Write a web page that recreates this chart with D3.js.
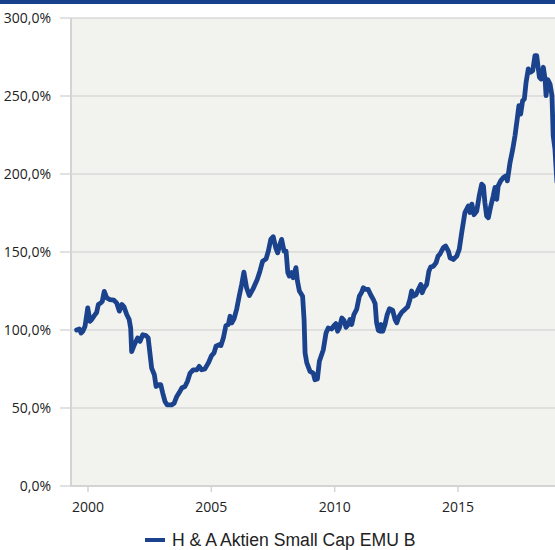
<!DOCTYPE html>
<html><head><meta charset="utf-8">
<script src="https://cdn.jsdelivr.net/npm/d3@7"></script>
<style>body{margin:0;background:#fff}svg{display:block}</style>
</head><body>
<script>
const seriesName = "H & A Aktien Small Cap EMU B";
const dates = [1999.54,1999.65,1999.72,1999.79,1999.88,1999.99,2000.08,2000.15,2000.24,2000.35,2000.42,2000.52,2000.58,2000.66,2000.76,2000.89,2001.05,2001.16,2001.27,2001.37,2001.46,2001.57,2001.67,2001.73,2001.77,2001.88,2002.01,2002.11,2002.22,2002.35,2002.44,2002.51,2002.58,2002.69,2002.76,2002.87,2002.95,2003.03,2003.12,2003.21,2003.39,2003.49,2003.60,2003.70,2003.80,2003.93,2004.03,2004.14,2004.27,2004.41,2004.51,2004.61,2004.74,2004.88,2005.01,2005.11,2005.19,2005.32,2005.39,2005.49,2005.59,2005.69,2005.76,2005.83,2005.92,2006.03,2006.13,2006.23,2006.32,2006.43,2006.54,2006.68,2006.77,2006.86,2006.97,2007.08,2007.22,2007.31,2007.41,2007.51,2007.61,2007.69,2007.76,2007.85,2007.95,2008.03,2008.10,2008.16,2008.26,2008.32,2008.43,2008.49,2008.57,2008.70,2008.76,2008.80,2008.87,2009.00,2009.13,2009.20,2009.30,2009.38,2009.54,2009.65,2009.74,2009.88,2009.97,2010.05,2010.12,2010.19,2010.29,2010.38,2010.46,2010.55,2010.62,2010.69,2010.78,2010.89,2011.00,2011.10,2011.16,2011.26,2011.36,2011.46,2011.57,2011.64,2011.70,2011.77,2011.84,2011.88,2011.95,2012.04,2012.13,2012.22,2012.35,2012.45,2012.52,2012.60,2012.72,2012.85,2012.96,2013.05,2013.12,2013.19,2013.30,2013.39,2013.49,2013.55,2013.63,2013.73,2013.82,2013.89,2014.00,2014.11,2014.19,2014.27,2014.40,2014.50,2014.61,2014.68,2014.81,2014.95,2015.05,2015.15,2015.28,2015.42,2015.49,2015.56,2015.65,2015.76,2015.86,2015.96,2016.03,2016.09,2016.16,2016.23,2016.33,2016.43,2016.50,2016.57,2016.63,2016.73,2016.84,2016.95,2017.00,2017.11,2017.22,2017.31,2017.40,2017.47,2017.54,2017.62,2017.69,2017.76,2017.85,2017.95,2018.03,2018.12,2018.19,2018.30,2018.37,2018.46,2018.53,2018.57,2018.64,2018.73,2018.81,2018.86,2018.93,2019.01];
const values = [100.0,100.7,98.1,99.2,102.4,114.2,105.6,106.7,108.9,111.2,116.3,117.4,118.4,124.8,120.6,119.5,119.1,117.4,112.1,116.4,114.8,109.9,106.7,101.2,86.1,90.6,94.9,92.7,97.0,96.4,94.9,85.3,75.6,71.3,63.8,64.9,64.9,59.6,54.2,52.0,52.0,53.0,57.4,59.9,62.8,63.8,67.0,72.4,74.5,74.5,76.7,74.5,75.1,78.9,83.6,85.3,89.6,90.6,90.0,95.0,102.8,103.5,108.8,104.6,107.2,113.6,121.7,129.2,137.1,127.0,122.1,126.0,129.2,132.4,137.7,144.1,145.6,150.5,158.1,159.8,152.7,149.5,153.8,158.1,150.5,150.5,136.8,134.6,136.8,133.5,140.0,131.4,125.0,121.7,106.7,85.3,78.9,73.5,72.4,68.1,68.6,79.9,87.4,98.1,101.3,100.6,102.8,104.1,99.2,101.3,107.7,106.2,101.7,103.5,106.7,103.5,109.9,113.2,121.7,124.3,127.1,126.0,126.0,122.6,119.5,116.9,104.6,99.8,99.2,103.5,99.2,103.5,109.9,113.6,112.7,106.7,104.6,108.4,111.4,113.2,114.9,119.5,125.0,121.7,122.7,126.0,129.2,123.9,127.1,129.2,137.7,140.3,140.9,143.1,147.3,148.7,152.7,153.8,150.5,146.3,145.2,147.4,151.7,162.4,175.3,179.5,175.3,180.7,173.9,176.3,186.0,193.5,192.4,181.7,173.1,172.0,179.5,186.0,191.4,183.8,192.4,195.6,197.7,198.8,195.6,207.4,216.0,224.5,235.2,243.8,238.4,247.0,248.1,258.8,267.4,265.3,266.3,275.9,275.9,262.0,260.9,268.4,260.9,250.2,260.5,257.7,250.2,224.5,216.0,195.0];
const yTicks = [0,50,100,150,200,250,300];
const xTicks = [2000,2005,2010,2015];

const W = 555, H = 550;
const svg = d3.select("body").append("svg").attr("width", W).attr("height", H);
const font = "'Open Sans', sans-serif";

// header bar
svg.append("rect").attr("x",0).attr("y",0).attr("width",W).attr("height",4).attr("fill","#17418b");

const pLeft = 71, pTop = 18, pBottom = 486;
const x = d3.scaleLinear().domain([1999.311, 2019.6]).range([pLeft, pLeft + (2019.6-1999.311)*24.667]);
const y = d3.scaleLinear().domain([0,300]).range([pBottom, pTop]);

svg.append("rect").attr("x",pLeft).attr("y",pTop).attr("width",W-pLeft).attr("height",pBottom-pTop).attr("fill","#f2f2ee");

// gridlines
svg.append("g").selectAll("line").data(yTicks).join("line")
  .attr("x1", 60).attr("x2", W).attr("y1", d=>y(d)).attr("y2", d=>y(d))
  .attr("stroke","#d9d9d9").attr("stroke-width",1.6);

// y labels
svg.append("g").selectAll("text").data(yTicks).join("text")
  .attr("x", 51).attr("y", d=>y(d)+5).attr("text-anchor","end")
  .attr("font-family",font).attr("font-size",14).attr("fill","#222")
  .text(d=>d3.format(".1f")(d).replace(".",",")+"%");

// axes lines
svg.append("line").attr("x1",pLeft).attr("x2",pLeft).attr("y1",pTop).attr("y2",pBottom+1)
  .attr("stroke","#d4d4d4").attr("stroke-width",2);
svg.append("line").attr("x1",pLeft).attr("x2",W).attr("y1",pBottom).attr("y2",pBottom)
  .attr("stroke","#d4d4d4").attr("stroke-width",2);

// x ticks
const xg = svg.append("g");
xg.selectAll("line").data(xTicks).join("line")
  .attr("x1",d=>x(d)).attr("x2",d=>x(d)).attr("y1",pBottom).attr("y2",pBottom+6)
  .attr("stroke","#d4d4d4").attr("stroke-width",1.5);
xg.selectAll("text").data(xTicks).join("text")
  .attr("x",d=>x(d)).attr("y",512).attr("text-anchor","middle")
  .attr("font-family",font).attr("font-size",14).attr("fill","#222").text(d=>d);

// line
const data = dates.map((d,i)=>({t:d, v:values[i]}));
svg.append("path").datum(data)
  .attr("d", d3.line().x(d=>x(d.t)).y(d=>y(d.v)).curve(d3.curveLinear))
  .attr("fill","none").attr("stroke","#1a428d").attr("stroke-width",4.8)
  .attr("stroke-linejoin","round").attr("stroke-linecap","round");

// legend
svg.append("line").attr("x1",145).attr("x2",165).attr("y1",540).attr("y2",540)
  .attr("stroke","#1a428d").attr("stroke-width",4);
svg.append("text").attr("x",172).attr("y",545.5)
  .attr("font-family","'Liberation Sans', Arial, sans-serif").attr("font-size",17.6).attr("fill","#222")
  .text(seriesName);
</script>
</body></html>
